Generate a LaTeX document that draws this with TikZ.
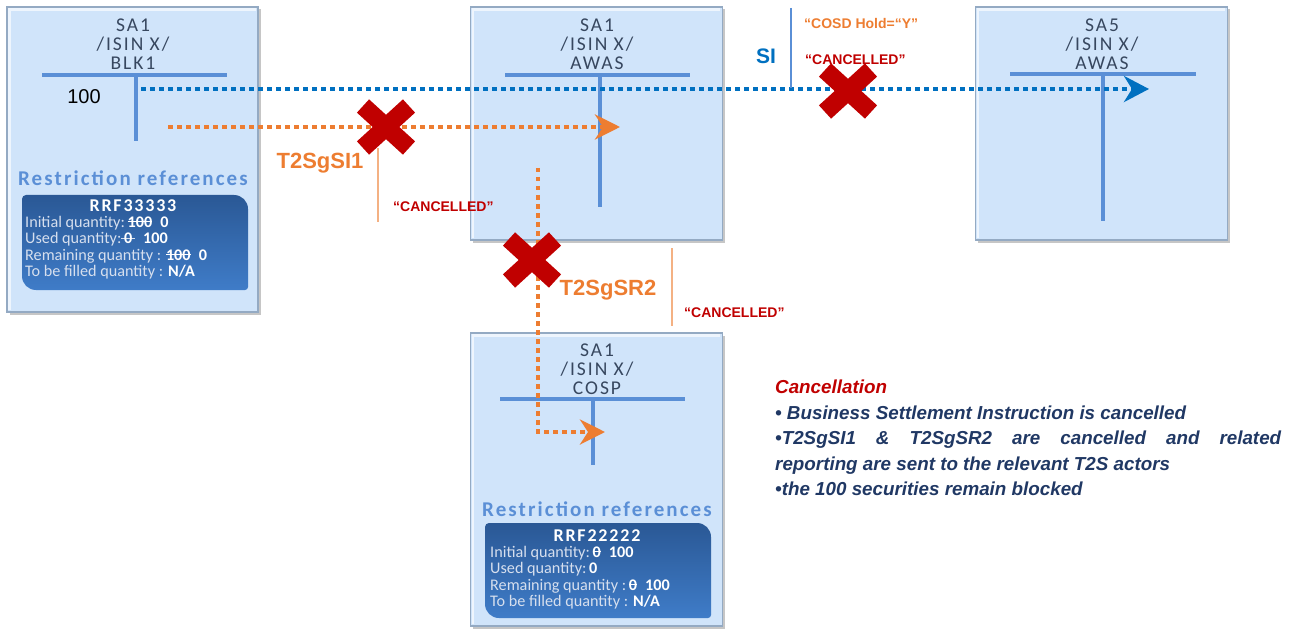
\documentclass[tikz,border=0pt]{standalone}
\usepackage{fontspec}
\usepackage{graphicx}
\setmainfont{Liberation Sans}
\newfontfamily\calf{Carlito}
\newfontfamily\calsp[LetterSpace=10]{Carlito}
\usetikzlibrary{arrows.meta,shadows,calc}
\definecolor{boxfill}{HTML}{D0E4FA}
\definecolor{boxedge}{HTML}{94AAC3}
\definecolor{tline}{HTML}{5A8FD6}
\definecolor{titlec}{HTML}{37475F}
\definecolor{siblue}{HTML}{0070C0}
\definecolor{orng}{HTML}{ED7D31}
\definecolor{lorng}{HTML}{F4B183}
\definecolor{xred}{HTML}{C00000}
\definecolor{navy}{HTML}{203864}
\definecolor{restr}{HTML}{5B8FD6}
\definecolor{pantop}{HTML}{2A5895}
\definecolor{panbot}{HTML}{3F7CC8}
\definecolor{lbl}{HTML}{D6DFEE}
\newcommand\strk[1]{\setbox0=\hbox{#1}\rlap{\raisebox{0.3em}{\rule{\wd0}{1.1pt}}}\box0}
\tikzset{
  acct/.style={draw=boxedge, line width=1.2pt, fill=boxfill, inner sep=0pt,
    drop shadow={shadow xshift=2.5pt, shadow yshift=-2.5pt, opacity=0.45}},
  bevel/.style={draw=white, opacity=0.65, line width=2.5pt},
  title/.style={align=center, text=titlec, font=\calsp\fontsize{19.5}{19}\selectfont, inner sep=0pt},
  tacc/.style={draw=tline, line width=4pt},
  bluedot/.style={draw=siblue, line width=4.5pt, dash pattern=on 4.5pt off 4.5pt,
    -{Stealth[length=25pt, width=26pt, inset=8pt]}},
  orgdot/.style={draw=orng, line width=4.5pt, dash pattern=on 4.5pt off 4.5pt,
    -{Stealth[length=25pt, width=25pt, inset=8pt]}},
  xmark/.style={draw=xred, line width=18pt},
  lbltxt/.style={text=orng, font=\bfseries\fontsize{22}{24}\selectfont, inner sep=0pt},
  canc/.style={text=xred, font=\bfseries\fontsize{14}{16}\selectfont, inner sep=0pt},
  restrtxt/.style={text=restr, font=\calsp\bfseries\fontsize{21}{23}\selectfont, inner sep=0pt},
  rrf/.style={text=white, font=\calsp\bfseries\fontsize{18}{20}\selectfont, inner sep=0pt},
  pline/.style={anchor=base west, text=lbl, font=\calf\fontsize{16.2}{16.5}\selectfont, inner sep=0pt},
  panel/.style={top color=pantop, bottom color=panbot, draw=none},
}
\begin{document}
\begin{tikzpicture}[x=1pt,y=-1pt]
\useasboundingbox (0,0) rectangle (1292,631);
% account boxes
\node[acct, minimum width=251pt, minimum height=305pt] (b1) at (132.5,159.5) {};
\node[acct, minimum width=252pt, minimum height=233pt] (b2) at (596.5,123.5) {};
\node[acct, minimum width=252pt, minimum height=233pt] (b3) at (1101.5,123.5) {};
\node[acct, minimum width=252pt, minimum height=293pt] (b4) at (596.5,479.5) {};
\foreach \b in {b1,b2,b3,b4}{
  \draw[bevel] ($(\b.south west)+(3,-3)$) |- ($(\b.north east)+(-3,3)$);
}
% titles
\node[title] (t1) at (133,44) {SA1\\/ISIN X/\\BLK1};
\node[title] (t2) at (597,44) {SA1\\/ISIN X/\\AWAS};
\node[title] (t3) at (1102,44) {SA5\\/ISIN X/\\AWAS};
\node[title] (t4) at (597,369) {SA1\\/ISIN X/\\COSP};
% T accounts
\draw[tacc] (42,75) -- (227,75); \draw[tacc] (136,75) -- (136,141);
\draw[tacc] (505,75) -- (690,75); \draw[tacc] (600,75) -- (600,207);
\draw[tacc] (1010,74) -- (1196,74); \draw[tacc] (1103,74) -- (1103,221);
\draw[tacc] (500,399) -- (685,399); \draw[tacc] (593,399) -- (593,465);
\node[font=\fontsize{20}{22}\selectfont, inner sep=0pt] (q100) at (84,97) {100};
% restriction references box 1
\node[restrtxt] (r1) at (133,178) {Restriction references};
\path[panel] (22,250) [rounded corners=4pt] -- (22,195) [rounded corners=14pt] -- (248,195) [rounded corners=3pt] -- (248,290) [rounded corners=14pt] -- (22,290) [sharp corners] -- cycle;
\node[rrf] (rrf1) at (133,206) {RRF33333};
\node[pline] (p11) at (25,227) {Initial quantity:\,{\color{white}\bfseries\strk{100}\,\,\,0}};
\node[pline] (p12) at (25,243.5) {Used quantity:\strk{\,{\color{white}\bfseries0}\,}\,\,\,{\color{white}\bfseries100}};
\node[pline] (p13) at (25,260) {Remaining quantity : {\color{white}\bfseries\strk{100}\,\,\,0}};
\node[pline] (p14) at (25,276.5) {To be filled quantity : {\color{white}\bfseries N/A}};
% restriction references box 4
\node[restrtxt] (r4) at (597,509) {Restriction references};
\path[panel] (485,580) [rounded corners=4pt] -- (485,523) [rounded corners=14pt] -- (711,523) [rounded corners=3pt] -- (711,618) [rounded corners=14pt] -- (485,618) [sharp corners] -- cycle;
\node[rrf] (rrf4) at (597,536) {RRF22222};
\node[pline] (p41) at (490,557) {Initial quantity:\,{\color{white}\bfseries\strk{0}\,\,\,100}};
\node[pline] (p42) at (490,573.5) {Used quantity:\,{\color{white}\bfseries0}};
\node[pline] (p43) at (490,590) {Remaining quantity :\,{\color{white}\bfseries\strk{0}\,\,\,100}};
\node[pline] (p44) at (490,606.5) {To be filled quantity : {\color{white}\bfseries N/A}};
% connectors
\coordinate (bs) at (141,89); \coordinate (be) at (1149,89);
\coordinate (os) at (168,127); \coordinate (oe) at (620,127);
\coordinate (rs) at (538,168); \coordinate (re) at (605,432);
\draw[bluedot] (bs) -- (be);
\draw[orgdot] (os) -- (oe);
\draw[orgdot] (rs) |- (re);
% labels
\draw[draw=lorng, line width=1.5pt] (378,148) -- (378,222);
\node[lbltxt] (si1) at (320,163) {T2SgSI1};
\node[canc, anchor=west] (c1) at (393,207) {“CANCELLED”};
\draw[draw=lorng, line width=1.5pt] (672,248) -- (672,326);
\node[lbltxt] (sr2) at (608,290) {T2SgSR2};
\node[canc, anchor=west] (c2) at (684,313) {“CANCELLED”};
\draw[draw=tline, line width=1.5pt] (791,8) -- (791,88);
\node[text=siblue, font=\bfseries\fontsize{21}{22}\selectfont, inner sep=0pt] (si) at (766,56) {SI};
\node[text=orng, font=\bfseries\fontsize{14}{16}\selectfont, inner sep=0pt, anchor=west] (cosd) at (804,23) {“COSD Hold=“Y”};
\node[canc, anchor=west] (c3) at (805,60) {“CANCELLED”};
% red crosses
\foreach \n/\cx/\cy in {x1/386/127, x2/848/91, x3/532/260}{
  \coordinate (\n) at (\cx,\cy);
  \draw[xmark] ($(\n)+(-23,-21)$) -- ($(\n)+(23,21)$);
  \draw[xmark] ($(\n)+(-23,21)$) -- ($(\n)+(23,-21)$);
}
% cancellation text
\node[anchor=north west, text width=506pt, align=justify, inner sep=0pt, text=navy,
  font=\bfseries\itshape\fontsize{18.8}{25.5}\selectfont] (canctext) at (775,380) {\parindent=0pt
{\color{xred}Cancellation}\par
• Business Settlement Instruction is cancelled\par
•T2SgSI1 \& T2SgSR2 are cancelled and related\linebreak reporting are sent to the relevant T2S actors\par
•the 100 securities remain blocked};
\end{tikzpicture}
\end{document}
